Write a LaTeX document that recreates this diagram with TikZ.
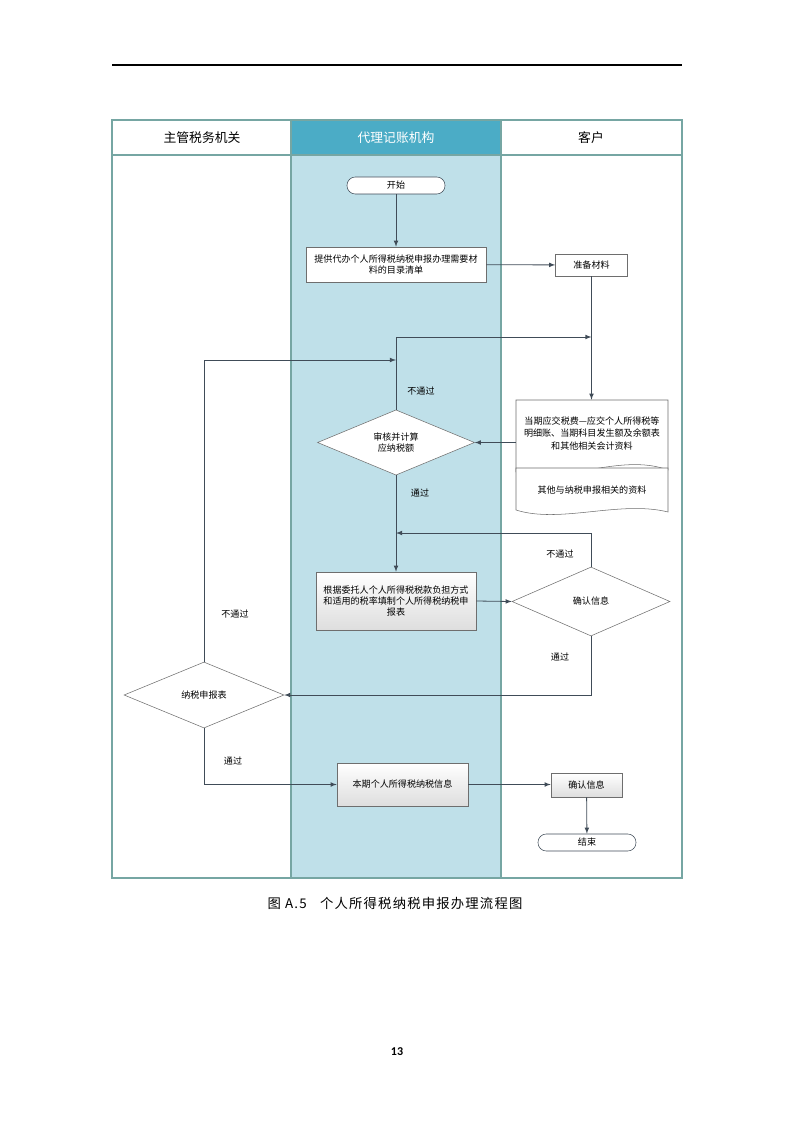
\documentclass[tikz,border=0pt]{standalone}
\usepackage{fontspec}
\usepackage{tikz}
\usetikzlibrary{shapes.geometric,arrows}
\newfontfamily\cjk{Noto Sans CJK SC}
\newfontfamily\cjkcap[LetterSpace=9]{Noto Sans CJK SC}
\newfontfamily\pagenum{Carlito}
\definecolor{lane-border}{RGB}{118,166,163}
\definecolor{lane-head}{RGB}{75,172,198}
\definecolor{lane-fill}{RGB}{191,224,233}
\definecolor{flow-line}{RGB}{64,76,88}
\definecolor{box-line}{RGB}{110,110,110}
\tikzset{
	txt/.style={font=\cjk\fontsize{6.8}{8.6}\selectfont, align=center, inner sep=0pt},
	term/.style={txt, draw=flow-line, fill=white, rounded corners=6.2pt, minimum width=73.5pt, minimum height=12.75pt},
	plainbox/.style={txt, draw=box-line, fill=white},
	shadebox/.style={txt, draw=box-line, top color=white, bottom color=black!13},
	decision/.style={txt, diamond, draw=box-line, fill=white},
	flow/.style={draw=flow-line, line width=0.6pt, -latex},
}

\begin{document}
\begin{tikzpicture}[x=0.75pt,y=-0.75pt]
			\useasboundingbox (0,0) rectangle (794,1123);						% page
			\draw [line width=0.9pt] (112,65) -- (682,65);						% page rule
			\fill [lane-fill] (291,155) rectangle (501,878);					% middle lane
			\fill [lane-head] (291,120) rectangle (501,155);					% middle lane head
			\draw [lane-border, line width=0.8pt] (112,120) rectangle (682,878);		% outer frame
			\draw [lane-border, line width=0.8pt] (112,155) -- (682,155);			% head row
			\foreach \x in {291,501}{										% lane dividers
				\draw [lane-border, line width=0.8pt] (\x,120) -- (\x,878);
			}
			\foreach \x/\name in {202/主管税务机关,591/客户}{					% lane titles
				\node [font=\cjk\fontsize{9.6}{11}\selectfont] at (\x,138) {\name};
			}
			\node [font=\cjk\fontsize{9.6}{11}\selectfont, text=white] at (396,138) {代理记账机构};
			% shapes
			\node [term] (start) at (396,185.5) {开始};
			\node [plainbox, minimum width=135pt, minimum height=26.25pt] (list) at (396,264.5) {提供代办个人所得税纳税申报办理需要材\\料的目录清单};
			\node [plainbox, minimum width=54pt, minimum height=16.5pt] (prep) at (591.5,265) {准备材料};
			\draw [draw=box-line, fill=white] (516,400) -- (668,400) -- (668,470) .. controls (620,452) and (560,486) .. (516,472) -- cycle;	% document 1
			\draw [draw=box-line, fill=white] (516,468) -- (668,468) -- (668,512) .. controls (620,500) and (560,524) .. (516,510) -- cycle;	% document 2
			\node [txt, font=\cjk\fontsize{6.8}{9.4}\selectfont, minimum width=114pt, minimum height=50.25pt] (docA) at (592,433.5) {当期应交税费—应交个人所得税等\\明细账、当期科目发生额及余额表\\和其他相关会计资料};
			\node [txt, minimum width=114pt] (docB) at (592,490) {其他与纳税申报相关的资料};
			\node [decision, minimum width=117.75pt, minimum height=48.75pt] (check) at (396,442.5) {审核并计算\\应纳税额};
			\node [shadebox, minimum width=120pt, minimum height=43.5pt] (fill) at (396,601) {根据委托人个人所得税税款负担方式\\和适用的税率填制个人所得税纳税申\\报表};
			\node [decision, minimum width=118.5pt, minimum height=51.75pt] (confirm) at (591,601.5) {确认信息};
			\node [decision, minimum width=120pt, minimum height=49.5pt] (declare) at (204,695) {纳税申报表};
			\node [shadebox, minimum width=98.25pt, minimum height=32.25pt] (info) at (402.5,784.5) {本期个人所得税纳税信息};
			\node [shadebox, minimum width=53.25pt, minimum height=18pt] (ack) at (586.5,785) {确认信息};
			\node [term] (end) at (587,842.5) {结束};
			% merge points
			\coordinate (joinA) at (591.5,337);
			\coordinate (joinB) at (396,360);
			\coordinate (joinC) at (396,533);
			% connectors
			\draw [flow] (start) -- (list);
			\draw [flow] (list) -- (prep);
			\draw [flow] (prep.south) -- (prep.south |- docA.north);
			\draw [flow] (check.north) |- (joinA);
			\draw [flow] (docA.west |- check.east) -- (check.east);
			\draw [flow] (check.south) -- (fill.north);
			\draw [flow] (fill.east) -- (confirm.west);
			\draw [flow] (confirm.north) |- (joinC);
			\draw [flow] (confirm.south) |- (declare.east);
			\draw [flow] (declare.north) |- (joinB);
			\draw [flow] (declare.south) |- (info.west);
			\draw [flow] (info.east) -- (ack.west |- info.east);
			\draw [flow] (ack) -- (end);
			% labels
			\node [txt] (noA) at (421,391) {不通过};
			\node [txt] (yesA) at (420,493) {通过};
			\node [txt] (noB) at (560,554) {不通过};
			\node [txt] (yesB) at (560,657) {通过};
			\node [txt] (noC) at (235,614) {不通过};
			\node [txt] (yesC) at (233,761) {通过};
			\node [font=\cjkcap\fontsize{10}{12}\selectfont] (caption) at (395,903) {图 A.5\quad 个人所得税纳税申报办理流程图};
			\node [font=\pagenum\bfseries\fontsize{9}{11}\selectfont] (page) at (397,1052) {13};
		\end{tikzpicture}
\end{document}
